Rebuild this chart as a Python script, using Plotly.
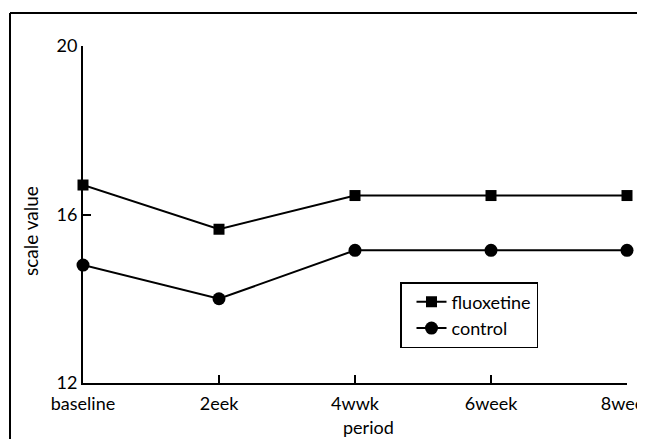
import plotly.graph_objects as go

periods = ["baseline", "2eek", "4wwk", "6week", "8week"]
x_pos = [0, 1, 2, 3, 4]
fluoxetine = [16.7, 15.65, 16.45, 16.45, 16.45]
control = [14.8, 14.0, 15.15, 15.15, 15.15]
y_ticks = [12, 16, 20]

FONT = "Lato"
OFF = 8  # page body margin offset

W, H = 645 - OFF, 439 - OFF
L, R, T, B = 83 - OFF, 18, 46 - OFF, 56
PW = W - L - R
PH = H - T - B


def px(xp):
    return (xp - OFF - L) / PW


def py(yp):
    return (H - B - (yp - OFF)) / PH


fig = go.Figure()
fig.add_trace(go.Scatter(
    x=x_pos, y=fluoxetine, name="fluoxetine", mode="lines+markers",
    line=dict(color="black", width=2),
    marker=dict(symbol="square", size=11, color="black"),
    cliponaxis=False,
))
fig.add_trace(go.Scatter(
    x=x_pos, y=control, name="control", mode="lines+markers",
    line=dict(color="black", width=2),
    marker=dict(symbol="circle", size=13, color="black"),
    cliponaxis=False,
))

fig.update_layout(
    width=W, height=H,
    margin=dict(l=L, r=R, t=T, b=B, autoexpand=False),
    paper_bgcolor="white", plot_bgcolor="white",
    font=dict(family=FONT, size=18, color="black"),
    showlegend=True,
    legend=dict(
        x=px(400), y=py(282), xanchor="left", yanchor="top",
        bordercolor="black", borderwidth=1.5, bgcolor="white",
        font=dict(family=FONT, size=18, color="black"),
        tracegroupgap=0, itemsizing="trace", indentation=10,
    ),
    xaxis=dict(
        range=[0, 4], tickmode="array", tickvals=x_pos, ticktext=periods,
        showline=True, linecolor="black", linewidth=2,
        ticks="inside", ticklen=8, tickwidth=1.5, tickcolor="black",
        showgrid=False, zeroline=False, ticklabelstandoff=3,
        ticklabeloverflow="allow", automargin=False,
        tickfont=dict(family=FONT, size=18, color="black"),
    ),
    yaxis=dict(
        range=[12, 20], tickmode="array", tickvals=y_ticks,
        ticktext=[str(v) for v in y_ticks],
        showline=True, linecolor="black", linewidth=2,
        ticks="inside", ticklen=8, tickwidth=1.5, tickcolor="black",
        showgrid=False, zeroline=False, automargin=False,
        tickfont=dict(family=FONT, size=18, color="black"),
    ),
    annotations=[
        dict(text="scale value", xref="paper", yref="paper",
             x=px(30), y=py(231), textangle=-90,
             showarrow=False, font=dict(family=FONT, size=19, color="black"),
             xanchor="center", yanchor="middle"),
        dict(text="period", xref="paper", yref="paper",
             x=px(368), y=py(427),
             showarrow=False, font=dict(family=FONT, size=18, color="black"),
             xanchor="center", yanchor="middle"),
    ],
    shapes=[
        dict(type="line", xref="paper", yref="paper",
             x0=px(10), x1=px(660), y0=py(13), y1=py(13),
             line=dict(color="black", width=2)),
        dict(type="line", xref="paper", yref="paper",
             x0=px(10), x1=px(10), y0=py(13), y1=py(460),
             line=dict(color="black", width=2)),
    ],
)

fig.write_html("out.html")
